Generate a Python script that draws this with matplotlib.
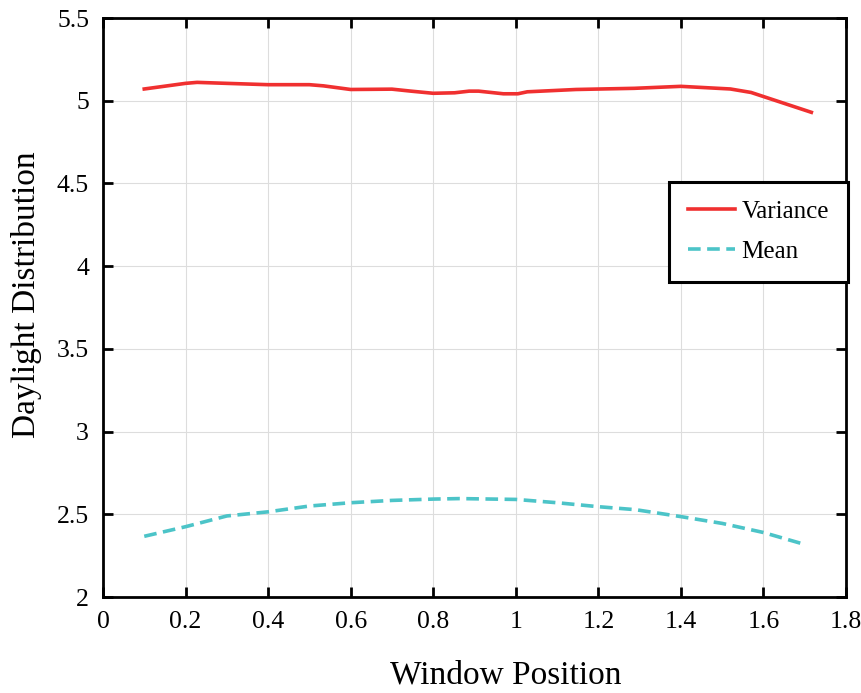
import matplotlib
matplotlib.use('Agg')
import matplotlib.pyplot as plt

plt.rcParams['font.family'] = ['Liberation Serif', 'DejaVu Serif']

# variance curve
var_x = [0.1, 0.2, 0.228, 0.3, 0.4, 0.5, 0.534, 0.6, 0.7, 0.746, 0.8, 0.852, 0.887, 0.91,
         0.97, 1.005, 1.028, 1.146, 1.287, 1.4, 1.52, 1.57, 1.716]
var_y = [5.071, 5.105, 5.111, 5.105, 5.097, 5.097, 5.09, 5.068, 5.07, 5.058, 5.045, 5.048,
         5.058, 5.058, 5.042, 5.042, 5.054, 5.068, 5.075, 5.087, 5.071, 5.05, 4.93]

# mean curve
mean_x = [0.1, 0.2, 0.3, 0.4, 0.5, 0.6, 0.7, 0.8, 0.864, 1.0, 1.1, 1.2, 1.29, 1.4, 1.5, 1.6, 1.69]
mean_y = [2.367, 2.425, 2.49, 2.515, 2.55, 2.57, 2.584, 2.592, 2.595, 2.59, 2.57, 2.546,
          2.528, 2.486, 2.445, 2.39, 2.325]

fig = plt.figure(figsize=(8.61, 6.93), dpi=100)
ax = fig.add_axes([0.1196, 0.1385, 0.863, 0.8355])

ax.plot(var_x, var_y, color='#f03030', lw=2.6, label='Variance')
ax.plot(mean_x, mean_y, color='#4cc4c8', lw=2.6, ls=(0, (3.5, 1.8)), label='Mean')

ax.set_xlim(0, 1.8)
ax.set_ylim(2, 5.5)
ax.set_xticks([0, 0.2, 0.4, 0.6, 0.8, 1, 1.2, 1.4, 1.6, 1.8])
ax.set_xticklabels(['0', '0.2', '0.4', '0.6', '0.8', '1', '1.2', '1.4', '1.6', '1.8'])
ax.set_yticks([2, 2.5, 3, 3.5, 4, 4.5, 5, 5.5])
ax.set_yticklabels(['2', '2.5', '3', '3.5', '4', '4.5', '5', '5.5'])
ax.grid(True, color='#dddddd', lw=0.8)
ax.tick_params(direction='in', top=True, right=True, length=7, width=2,
               labelsize=18.5, pad=10)
for s in ax.spines.values():
    s.set_linewidth(2)

ax.set_xlabel('Window Position', fontsize=24)
ax.xaxis.set_label_coords(0.542, -0.109)
ax.set_ylabel('Daylight Distribution', fontsize=24)
ax.yaxis.set_label_coords(-0.082, 0.522)

leg = ax.legend(loc='upper right', bbox_to_anchor=(1.002, 0.717), fontsize=18,
                fancybox=False, framealpha=1, edgecolor='black', borderaxespad=0,
                borderpad=0.75, labelspacing=0.7, handlelength=1.9, handletextpad=0.25)
leg.get_frame().set_linewidth(2.2)

fig.savefig('out.png', dpi=100)
